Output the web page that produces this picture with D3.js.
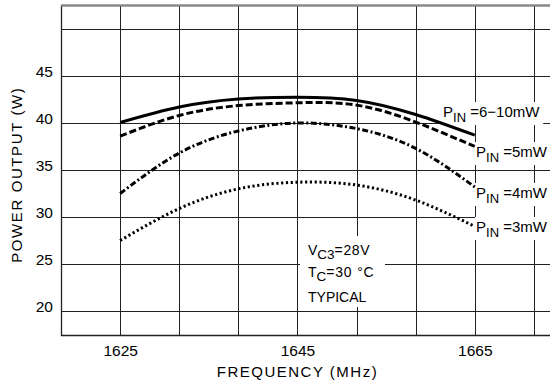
<!DOCTYPE html>
<html>
<head>
<meta charset="utf-8">
<script src="https://cdn.jsdelivr.net/npm/d3@7"></script>
<style>
  body { margin: 0; background: #fff; }
  text { font-family: "Liberation Sans", Arial, sans-serif; fill: #000; }
</style>
</head>
<body>
<svg id="chart" width="550" height="387"></svg>
<script>
// data
const freqs = [1625, 1631.67, 1638.33, 1645, 1651.67, 1658.33, 1665]
const pin610 = [40.05, 41.7, 42.55, 42.75, 42.4, 40.9, 38.7]
const pin5 = [38.6, 40.8, 41.85, 42.15, 41.9, 40.1, 37.5]
const pin4 = [32.5, 36.8, 39.15, 40.0, 39.4, 37.3, 33.2]
const pin3 = [27.5, 30.9, 33.0, 33.7, 33.4, 31.8, 29.0]
const seriesNames = ['=6\u221210mW', '=5mW', '=4mW', '=3mW']

const xTicks = [1625, 1645, 1665]
const yTicks = [20, 25, 30, 35, 40, 45]
const xGrid = [1618.33, 1625, 1631.67, 1638.33, 1645, 1651.67, 1658.33, 1665, 1671.67]
const yGrid = [20, 25, 30, 35, 40, 45, 50]

const chart = d3.select('#chart')
const pLeft = 61, pRight = 551, pTop = 5, pBottom = 335

const x = d3.scaleLinear().domain([1618.33, 1673.6]).range([pLeft, pRight])
const y = d3.scaleLinear().domain([17.45, 52.55]).range([pBottom, pTop])

// grid
chart.append('g')
    .attr('transform', `translate(0, ${pBottom})`)
    .call(d3.axisBottom(x).tickValues(xGrid).tickSize(-(pBottom - pTop)).tickFormat(''))
    .call(g => g.select('.domain').remove())
    .call(g => g.selectAll('line').attr('stroke', '#222').attr('shape-rendering', 'crispEdges'))

chart.append('g')
    .attr('transform', `translate(${pLeft}, 0)`)
    .call(d3.axisLeft(y).tickValues(yGrid).tickSize(-(pRight - pLeft)).tickFormat(''))
    .call(g => g.select('.domain').remove())
    .call(g => g.selectAll('line').attr('stroke', '#222').attr('shape-rendering', 'crispEdges'))

// frame: left, bottom, top
chart.append('path')
    .attr('d', `M${pRight},${pTop + 0.5}H${pLeft + 0.5}V${pBottom + 0.5}H${pRight}`)
    .attr('fill', 'none')
    .attr('stroke', '#222')
    .attr('stroke-width', 1.3)
chart.append('line')
    .attr('x1', pLeft).attr('x2', pRight).attr('y1', pTop + 0.5).attr('y2', pTop + 0.5)
    .attr('stroke', '#888').attr('stroke-width', 2)

// tick labels
chart.append('g')
    .attr('transform', `translate(${pLeft}, 0)`)
    .call(d3.axisLeft(y).tickValues(yTicks).tickSize(0).tickPadding(8))
    .call(g => g.select('.domain').remove())
    .call(g => g.selectAll('text').attr('dy', '0.05em').style('font-size', '15.5px')
        .style('font-family', '"Liberation Sans", Arial, sans-serif'))

chart.append('g')
    .attr('transform', `translate(0, ${pBottom})`)
    .call(d3.axisBottom(x).tickValues(xTicks).tickSize(0).tickPadding(10).tickFormat(d3.format('d')))
    .call(g => g.select('.domain').remove())
    .call(g => g.selectAll('text').style('font-size', '15.5px')
        .style('font-family', '"Liberation Sans", Arial, sans-serif'))

// axis titles
chart.append('text')
    .text('FREQUENCY (MHz)')
    .attr('x', x(1645))
    .attr('y', 377)
    .attr('text-anchor', 'middle')
    .style('font-size', '15px')
    .style('letter-spacing', '1.5px')

chart.append('text')
    .text('POWER OUTPUT (W)')
    .attr('transform', `translate(22, ${y(34.5)}) rotate(-90)`)
    .attr('text-anchor', 'middle')
    .style('font-size', '15px')
    .style('letter-spacing', '1.6px')

// white backings sit under the curves, over the grid
const backs = chart.append('g')
const curves = chart.append('g')
const texts = chart.append('g')

// curves
const styles = [
    { values: pin610, dash: null, width: 3 },
    { values: pin5, dash: '7,3', width: 3 },
    { values: pin4, dash: '6,2.5,2,2.5', width: 3 },
    { values: pin3, dash: '2.2,2.6', width: 3 }
]

const line = d3.line()
    .x((d, i) => x(freqs[i]))
    .y(d => y(d))
    .curve(d3.curveNatural)

curves.selectAll('path')
    .data(styles)
    .enter()
    .append('path')
    .attr('d', d => line(d.values))
    .attr('fill', 'none')
    .attr('stroke', '#000')
    .attr('stroke-width', d => d.width)
    .attr('stroke-dasharray', d => d.dash)

// series labels
const labelPos = [[443, 117], [476, 157], [476, 198], [476, 232]]
seriesNames.forEach((name, i) => {
    const t = texts.append('text')
        .attr('x', labelPos[i][0])
        .attr('y', labelPos[i][1])
        .style('font-size', '15px')
    t.append('tspan').text('P')
    t.append('tspan').text('IN').attr('dy', 5).style('font-size', '13px')
    t.append('tspan').text('\u00a0' + name).attr('dy', -5)
    const b = t.node().getBBox()
    backs.append('rect')
        .attr('x', b.x - 1).attr('y', b.y - 1)
        .attr('width', b.width + 4).attr('height', b.height + 1)
        .attr('fill', '#fff')
})

// conditions note
backs.append('rect')
    .attr('x', 300).attr('y', 236).attr('width', 85).attr('height', 71)
    .attr('fill', '#fff')

const note = texts.append('g').style('font-size', '14px')
const v = note.append('text').attr('x', 308).attr('y', 255)
v.append('tspan').text('V')
v.append('tspan').text('C3').attr('dy', 4).style('font-size', '13.5px')
v.append('tspan').text('=28V').attr('dy', -4).style('letter-spacing', '0.6px')
const tc = note.append('text').attr('x', 308).attr('y', 277)
tc.append('tspan').text('T')
tc.append('tspan').text('C').attr('dy', 4).style('font-size', '13.5px')
tc.append('tspan').text('=30 \u00b0C').attr('dy', -4).style('letter-spacing', '0.8px')
note.append('text').attr('x', 308).attr('y', 302).text('TYPICAL')
</script>
</body>
</html>
